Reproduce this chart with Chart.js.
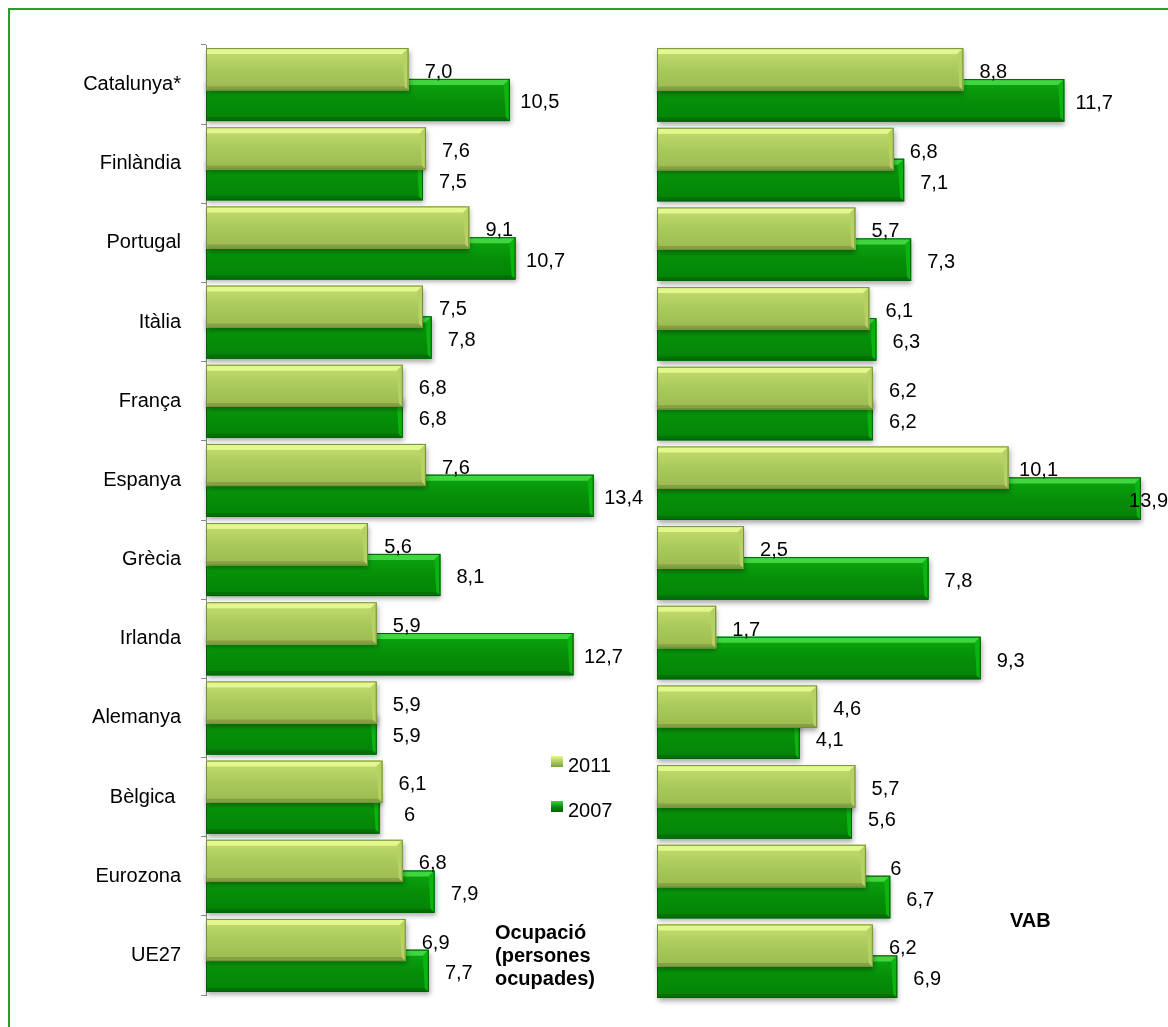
<!DOCTYPE html>
<html>
<head>
<meta charset="utf-8">
<script src="https://cdn.jsdelivr.net/npm/chart.js@4.4.1/dist/chart.umd.min.js"></script>
<style>
html, body { margin: 0; padding: 0; background: #fff; overflow: hidden; }
body { width: 1168px; height: 1027px; position: relative; font-family: "Liberation Sans", Arial, sans-serif; }
#frame { position: absolute; left: 8px; top: 8px; width: 1200px; height: 1100px; border: 2px solid #2f9a2f; }
canvas { position: absolute; top: 0; }
#left { left: 0; }
#right { left: 640px; }
.key { position: absolute; font-size: 20px; line-height: 20px; color: #000; }
.key i { position: absolute; left: -17px; top: 1px; width: 12px; height: 11px; }
.k2011 i { background: linear-gradient(#e4f58c, #a9c95c 55%, #7f9c3e); }
.k2007 i { background: linear-gradient(#3fd43f, #058c07 55%, #035e04); }
.note { position: absolute; font-size: 20px; line-height: 23px; font-weight: bold; color: #000; }
</style>
</head>
<body>
<div id="frame"></div>
<canvas id="left" width="660" height="1027"></canvas>
<canvas id="right" width="528" height="1027"></canvas>
<div class="key k2011" style="left:568px;top:755px"><i></i>2011</div>
<div class="key k2007" style="left:568px;top:800px"><i></i>2007</div>
<div class="note" style="left:495px;top:921px">Ocupació<br>(persones<br>ocupades)</div>
<div class="note" style="left:1010px;top:909px">VAB</div>
<script>
"use strict";

const countries = ["Catalunya*", "Finlàndia", "Portugal", "Itàlia", "França", "Espanya",
  "Grècia", "Irlanda", "Alemanya", "Bèlgica ", "Eurozona", "UE27"];

// Ocupació (persones ocupades)
const ocup2011 = [7.0, 7.6, 9.1, 7.5, 6.8, 7.6, 5.6, 5.9, 5.9, 6.1, 6.8, 6.9];
const ocup2007 = [10.5, 7.5, 10.7, 7.8, 6.8, 13.4, 8.1, 12.7, 5.9, 6, 7.9, 7.7];
const ocup2011Text = ["7,0", "7,6", "9,1", "7,5", "6,8", "7,6", "5,6", "5,9", "5,9", "6,1", "6,8", "6,9"];
const ocup2007Text = ["10,5", "7,5", "10,7", "7,8", "6,8", "13,4", "8,1", "12,7", "5,9", "6", "7,9", "7,7"];

// VAB
const vab2011 = [8.8, 6.8, 5.7, 6.1, 6.2, 10.1, 2.5, 1.7, 4.6, 5.7, 6, 6.2];
const vab2007 = [11.7, 7.1, 7.3, 6.3, 6.2, 13.9, 7.8, 9.3, 4.1, 5.6, 6.7, 6.9];
const vab2011Text = ["8,8", "6,8", "5,7", "6,1", "6,2", "10,1", "2,5", "1,7", "4,6", "5,7", "6", "6,2"];
const vab2007Text = ["11,7", "7,1", "7,3", "6,3", "6,2", "13,9", "7,8", "9,3", "4,1", "5,6", "6,7", "6,9"];

const FONT = '"Liberation Sans", Arial, sans-serif';
Chart.defaults.font.family = FONT;
Chart.defaults.font.size = 20;
Chart.defaults.color = "#000";

const palettes = [
  { faceTop: "#c6df70", faceMid: "#a9c95c", faceBot: "#9bbb52", top: "#e4f68e", bottom: "#86a044", side: "#b6d264", edge: "#73903a" },
  { faceTop: "#0ca70f", faceMid: "#068f08", faceBot: "#048206", top: "#40d640", bottom: "#037008", side: "#0cb410", edge: "#03600a" },
];

function poly(ctx, pts, color) {
  ctx.beginPath();
  ctx.moveTo(pts[0][0], pts[0][1]);
  for (let k = 1; k < pts.length; ++k) ctx.lineTo(pts[k][0], pts[k][1]);
  ctx.closePath();
  ctx.fillStyle = color;
  ctx.fill();
}

// shadow under the bars, then a bevelled face on top of each bar element
const bevelPlugin = {
  id: "bevel",
  beforeDatasetDraw(chart) {
    const ctx = chart.ctx;
    ctx.save();
    ctx.shadowColor = "rgba(0,0,0,0.35)";
    ctx.shadowBlur = 5;
    ctx.shadowOffsetX = 1;
    ctx.shadowOffsetY = 3;
  },
  afterDatasetDraw(chart, args) {
    const ctx = chart.ctx;
    ctx.restore();
    const pal = palettes[args.index];
    const d = 6, db = 4;
    args.meta.data.forEach((bar) => {
      const p = bar.getProps(["x", "y", "base", "height"], true);
      const L = p.base, R = p.x, T = p.y - p.height / 2, B = p.y + p.height / 2;
      const g = ctx.createLinearGradient(0, T, 0, B);
      g.addColorStop(0, pal.faceTop);
      g.addColorStop(0.5, pal.faceMid);
      g.addColorStop(1, pal.faceBot);
      ctx.fillStyle = g;
      ctx.fillRect(L, T, R - L, B - T);
      poly(ctx, [[L, T], [R, T], [R - d, T + d], [L, T + d]], pal.top);
      poly(ctx, [[L, B], [R, B], [R - db, B - db], [L, B - db]], pal.bottom);
      poly(ctx, [[R, T], [R, B], [R - db, B - db], [R - d, T + d]], pal.side);
      ctx.strokeStyle = pal.edge;
      ctx.lineWidth = 1;
      ctx.strokeRect(L + 0.5, T + 0.5, R - L - 1, B - T - 1);
    });
  },
};

function valueLabels(texts) {
  return {
    id: "valueLabels",
    afterDatasetsDraw(chart) {
      const ctx = chart.ctx;
      ctx.save();
      ctx.font = "20px " + FONT;
      ctx.fillStyle = "#000";
      ctx.textAlign = "center";
      ctx.textBaseline = "middle";
      texts.forEach((list, i) => {
        chart.getDatasetMeta(i).data.forEach((bar, j) => {
          const w = ctx.measureText(list[j]).width;
          const cx = Math.min(bar.x + 30, chart.width - w / 2);
          ctx.fillText(list[j], cx, bar.y + 3);
        });
      });
      ctx.restore();
    },
  };
}

function makeChart(id, data2011, data2007, texts, xMax, showAxis, axisWidth, padRight) {
  const ctx = document.getElementById(id).getContext("2d");
  return new Chart(ctx, {
    type: "bar",
    data: {
      labels: countries,
      datasets: [
        { label: "2011", data: data2011, backgroundColor: "#a8c85b", borderWidth: 0, clip: false },
        { label: "2007", data: data2007, backgroundColor: "#058e07", borderWidth: 0, clip: false },
      ],
    },
    options: {
      indexAxis: "y",
      responsive: false,
      animation: false,
      events: [],
      devicePixelRatio: 1,
      categoryPercentage: 0.778,
      barPercentage: 1.37,
      layout: { padding: { top: 45, bottom: 26, left: 0, right: padRight } },
      plugins: { legend: { display: false }, tooltip: { enabled: false } },
      scales: {
        x: { display: false, min: 0, max: xMax },
        y: {
          afterFit: (s) => { s.width = axisWidth; },
          grid: { display: showAxis, drawOnChartArea: false, drawTicks: true, tickLength: 5, color: "#8c8c8c", offset: true },
          border: { display: showAxis, color: "#8c8c8c" },
          ticks: { display: showAxis, padding: 20, autoSkip: false, color: "#000", font: { size: 20 } },
        },
      },
    },
    plugins: [bevelPlugin, valueLabels(texts)],
  });
}

makeChart("left", ocup2011, ocup2007, [ocup2011Text, ocup2007Text], 15, true, 206, 20);
makeChart("right", vab2011, vab2007, [vab2011Text, vab2007Text], 14.68, false, 17, 0);
</script>
</body>
</html>
